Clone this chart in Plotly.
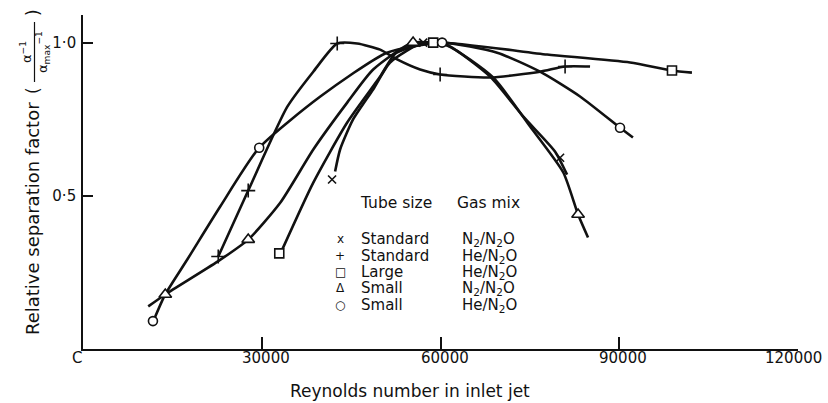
import plotly.graph_objects as go

# ---------------- data ----------------
x_tick_vals = [30000, 60000, 90000, 120000]
x_tick_text = ["30000", "60000", "90000", "120000"]
y_tick_vals = [0.5, 1.0]
y_tick_text = ["0·5", "1·0"]

# measured points (markers)
std_n2_x = [41800, 57090, 80070]
std_n2_y = [0.553, 1.0, 0.624]
std_he_x = [22700, 27730, 42670, 59940, 80910]
std_he_y = [0.302, 0.517, 0.997, 0.896, 0.922]
large_he_x = [32940, 58770, 98850]
large_he_y = [0.312, 1.0, 0.909]
small_n2_x = [13810, 27730, 55400, 83090]
small_n2_y = [0.178, 0.357, 1.0, 0.439]
small_he_x = [11740, 29575, 60270, 90130]
small_he_y = [0.091, 0.657, 1.0, 0.722]

# hand-drawn curves
cur_std_n2_x = [42310, 43150, 45330, 48690, 51540, 57090, 61110, 68330, 73870, 79240, 81240]
cur_std_n2_y = [0.579, 0.651, 0.749, 0.847, 0.935, 1.0, 0.992, 0.889, 0.759, 0.644, 0.569]
cur_std_he_x = [22700, 27730, 34270, 38650, 42670, 46010, 49870, 52720, 56580, 59940, 68330, 76710, 80910, 85100]
cur_std_he_y = [0.302, 0.517, 0.790, 0.905, 0.997, 0.997, 0.977, 0.945, 0.912, 0.896, 0.886, 0.905, 0.922, 0.922]
cur_large_x = [33450, 38650, 44340, 49870, 52500, 58770, 77900, 91820, 98850, 102200]
cur_large_y = [0.325, 0.543, 0.739, 0.889, 0.965, 1.0, 0.961, 0.935, 0.909, 0.902]
cur_small_n2_x = [10950, 13810, 22560, 27730, 33130, 38650, 44340, 48700, 55400, 61110, 68840, 75040, 80610, 83090, 84760]
cur_small_n2_y = [0.139, 0.178, 0.285, 0.357, 0.478, 0.651, 0.804, 0.912, 1.0, 0.99, 0.886, 0.726, 0.576, 0.439, 0.364]
cur_small_he_x = [11790, 13800, 17500, 23030, 29580, 39830, 51030, 60270, 69510, 76710, 83420, 90130, 92300]
cur_small_he_y = [0.090, 0.178, 0.292, 0.465, 0.657, 0.824, 0.967, 1.0, 0.967, 0.905, 0.824, 0.722, 0.690]

# legend table
legend_symbols = ["x", "+", "□", "Δ", "○"]
tube_sizes = ["Standard", "Standard", "Large", "Small", "Small"]
gas_mixes = ["N<sub>2</sub>/N<sub>2</sub>O", "He/N<sub>2</sub>O", "He/N<sub>2</sub>O",
             "N<sub>2</sub>/N<sub>2</sub>O", "He/N<sub>2</sub>O"]

# ---------------- layout geometry ----------------
W, H = 828, 403
ML, MR, MT, MB = 83, 30, 15, 54
PW, PH = W - ML - MR, H - MT - MB
FONT = "DejaVu Sans"
INK = "#111111"


def px(p):
    return (p - ML) / PW


def py(p):
    return (H - MB - p) / PH


fig = go.Figure()

curves = [
    (cur_std_n2_x, cur_std_n2_y),
    (cur_std_he_x, cur_std_he_y),
    (cur_large_x, cur_large_y),
    (cur_small_n2_x, cur_small_n2_y),
    (cur_small_he_x, cur_small_he_y),
]
for cx, cy in curves:
    fig.add_trace(go.Scatter(x=cx, y=cy, mode="lines",
                             line=dict(color=INK, width=2.6, shape="spline", smoothing=0.6),
                             hoverinfo="skip", showlegend=False))

series = [
    (std_n2_x, std_n2_y, "x-thin", 8),
    (std_he_x, std_he_y, "cross-thin", 10),
    (large_he_x, large_he_y, "square", 9),
    (small_n2_x, small_n2_y, "triangle-up", 11),
    (small_he_x, small_he_y, "circle", 9),
]
for sx, sy, sym, size in series:
    thin = sym.endswith("thin")
    fig.add_trace(go.Scatter(
        x=sx, y=sy, mode="markers",
        marker=dict(symbol=sym, size=size, color=INK if thin else "white",
                    line=dict(color=INK, width=1.6)),
        showlegend=False))

ann = []
# x tick labels (placed at the tick values, slightly right of each tick as in the print)
for i, (tv, tt) in enumerate(zip(x_tick_vals, x_tick_text)):
    last = i == len(x_tick_vals) - 1
    ann.append(dict(text=tt, x=tv, xref="x", y=py(358), yref="paper",
                    xshift=26 if last else 4, xanchor="right" if last else "center",
                    showarrow=False, yanchor="middle", font=dict(size=15)))
ann.append(dict(text="C", x=px(77), y=py(358), xref="paper", yref="paper",
                showarrow=False, xanchor="center", yanchor="middle", font=dict(size=15)))
ann.append(dict(text="Reynolds number in inlet jet", x=px(410), y=py(391), xref="paper", yref="paper",
                showarrow=False, xanchor="center", yanchor="middle", font=dict(size=17)))

# y-axis title (rotated, with stacked fraction)
ann.append(dict(text="Relative separation factor", x=px(33), y=py(219), xref="paper", yref="paper",
                showarrow=False, textangle=-90, xanchor="center", yanchor="middle", font=dict(size=18)))
ann.append(dict(text="(", x=px(33), y=py(90), xref="paper", yref="paper",
                showarrow=False, textangle=-90, xanchor="center", yanchor="middle", font=dict(size=17)))
ann.append(dict(text=")", x=px(33), y=py(12), xref="paper", yref="paper",
                showarrow=False, textangle=-90, xanchor="center", yanchor="middle", font=dict(size=17)))
ann.append(dict(text="α<sup>−1</sup>", x=px(26), y=py(52), xref="paper", yref="paper",
                showarrow=False, textangle=-90, xanchor="center", yanchor="middle", font=dict(size=13)))
ann.append(dict(text="α<sub>max</sub><sup>−1</sup>", x=px(43), y=py(52), xref="paper", yref="paper",
                showarrow=False, textangle=-90, xanchor="center", yanchor="middle", font=dict(size=13)))

# legend table
ann.append(dict(text="Tube size", x=px(358), y=py(203), xref="paper", yref="paper",
                showarrow=False, xanchor="left", yanchor="middle", font=dict(size=15.5)))
ann.append(dict(text="Gas mix", x=px(455), y=py(203), xref="paper", yref="paper",
                showarrow=False, xanchor="left", yanchor="middle", font=dict(size=15.5)))
row_y = [239, 256, 272, 288, 305]
for sym, tube, gas, ry in zip(legend_symbols, tube_sizes, gas_mixes, row_y):
    ann.append(dict(text=sym, x=px(340), y=py(ry), xref="paper", yref="paper",
                    showarrow=False, xanchor="center", yanchor="middle", font=dict(size=12)))
    ann.append(dict(text=tube, x=px(359), y=py(ry), xref="paper", yref="paper",
                    showarrow=False, xanchor="left", yanchor="middle", font=dict(size=15)))
    ann.append(dict(text=gas, x=px(460), y=py(ry), xref="paper", yref="paper",
                    showarrow=False, xanchor="left", yanchor="middle", font=dict(size=15)))

shapes = [dict(type="line", xref="paper", yref="paper", x0=px(34.5), x1=px(34.5), y0=py(22), y1=py(82),
               line=dict(color=INK, width=1.2))]

fig.update_layout(
    width=W, height=H,
    margin=dict(l=ML, r=MR, t=MT, b=MB),
    paper_bgcolor="white", plot_bgcolor="white",
    font=dict(family=FONT, color=INK, size=15),
    showlegend=False,
    annotations=ann, shapes=shapes,
    xaxis=dict(range=[0, 120000], showgrid=False, zeroline=False, showline=True,
               linecolor=INK, linewidth=2, ticks="inside", ticklen=12, tickwidth=1.5,
               tickcolor=INK, tickvals=x_tick_vals, showticklabels=False),
    yaxis=dict(range=[0, 1.09], showgrid=False, zeroline=False, showline=True,
               linecolor=INK, linewidth=1.6, ticks="inside", ticklen=10, tickwidth=1.5,
               tickcolor=INK, tickvals=y_tick_vals, ticktext=y_tick_text,
               ticklabelstandoff=2, tickfont=dict(size=15)),
)

fig.write_html("out.html")
